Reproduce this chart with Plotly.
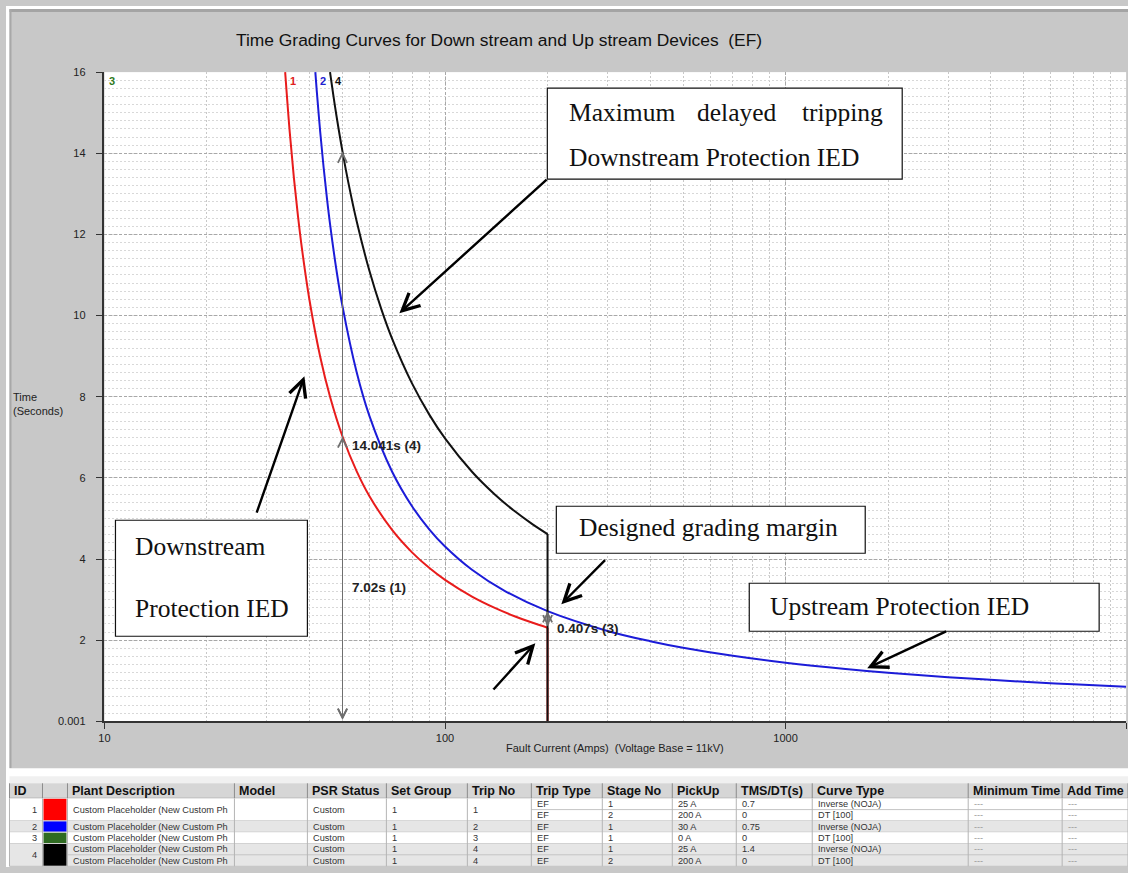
import math
import plotly.graph_objects as go

# Figure size and the placement of the figure on the page
PAGE_W, PAGE_H = 1144, 889
W, H = 1128, 873
AX, BX = 6.5, 0.995   # page x = AX + BX * figure x
AY, BY = 5.9, 0.986   # page y = AY + BY * figure y

# ---------------- characteristic curves: fault current (A) -> operating time (s)
# Trip 1 : EF stage 1, Inverse (NOJA), pickup 25 A, TMS 0.7
trip1_current = [33.93, 35, 36, 37, 38, 40, 43, 46, 50, 55, 60, 70, 80, 90, 100,
                 120, 140, 160, 180, 200]
trip1_time = [16.0, 14.514, 13.389, 12.450, 11.654, 10.377, 8.986, 7.987, 7.020,
              6.166, 5.548, 4.710, 4.164, 3.777, 3.486, 3.075, 2.796, 2.591, 2.434, 2.308]

# Trip 2 : EF stage 1, Inverse (NOJA), pickup 30 A, TMS 0.75
trip2_current = [41.61, 42, 43, 44, 45, 46, 48, 50, 55, 60, 70, 80, 90, 100, 120, 150,
                 200, 300, 400, 500, 700, 1000, 1500, 2000, 3000, 5000, 7000, 10000]
trip2_time = [16.0, 15.551, 14.531, 13.655, 12.896, 12.230, 11.118, 10.225, 8.609,
              7.522, 6.144, 5.300, 4.726, 4.308, 3.735, 3.210, 2.715, 2.228, 1.975,
              1.814, 1.615, 1.445, 1.290, 1.198, 1.088, 0.975, 0.911, 0.852]

# Trip 4 : EF stage 1, Inverse (NOJA), pickup 25 A, TMS 1.4
trip4_current = [45.95, 47, 48, 50, 52, 55, 60, 65, 70, 80, 90, 100, 120, 140, 160,
                 180, 200]
trip4_time = [16.0, 15.427, 14.925, 14.041, 13.283, 12.332, 11.096, 10.159, 9.420,
              8.328, 7.553, 6.972, 6.150, 5.591, 5.182, 4.867, 4.615]

# Stage 2 of trips 1 and 4: definite time at 200 A, 0 s
dt_current = 200
dt_time = 0.001

# Time readings marked on the chart
meas_current = [50, 50, 200]
meas_top = [14.041, 7.02, 2.715]
meas_bottom = [0.001, 0.001, 2.308]
meas_text = ["14.041s (4)", "7.02s (1)", "0.407s (3)"]

# Axis ticks
x_tickvals = [10, 100, 1000, 10000]
x_ticktext = ["10", "100", "1000", "10000"]
y_tickvals = [0.001, 2, 4, 6, 8, 10, 12, 14, 16]
y_ticktext = ["0.001", "2", "4", "6", "8", "10", "12", "14", "16"]

# ---------------- settings table
table_headers = ["ID", "", "Plant Description", "Model", "PSR Status", "Set Group",
                 "Trip No", "Trip Type", "Stage No", "PickUp", "TMS/DT(s)",
                 "Curve Type", "Minimum Time", "Add Time"]
trip_ids = [1, 2, 3, 4]
trip_colors = ["#ff0000", "#0000ff", "#2f6b22", "#000000"]
trip_rows = [[0, 1], [2], [3], [4, 5]]
trip_merged = [True, True, True, False]
plant_desc = "Custom Placeholder (New Custom Ph"
psr_status = "Custom"
set_group = "1"
stage_trip = [1, 1, 2, 3, 4, 4]
stage_type = ["EF", "EF", "EF", "EF", "EF", "EF"]
stage_no = ["1", "2", "1", "1", "1", "2"]
stage_pickup = ["25 A", "200 A", "30 A", "0 A", "25 A", "200 A"]
stage_tms = ["0.7", "0", "0.75", "0", "1.4", "0"]
stage_curve = ["Inverse (NOJA)", "DT [100]", "Inverse (NOJA)", "DT [100]",
               "Inverse (NOJA)", "DT [100]"]
stage_min_time = ["---"] * 6
stage_add_time = ["---"] * 6

SANS = "Liberation Sans, Arial, sans-serif"
SERIF = "Liberation Serif, Times New Roman, serif"


def clamp(v):
    return min(1.0, max(0.0, v))


def px(x):
    """page pixel -> paper x"""
    return ((x - AX) / BX) / W


def py(y):
    """page pixel -> paper y"""
    return 1 - ((y - AY) / BY) / H


shapes = []
annotations = []


def rect(x0, y0, x1, y1, fill, line=None, lw=0, layer="below"):
    shapes.append(dict(type="rect", xref="paper", yref="paper",
                       x0=clamp(px(x0)), x1=clamp(px(x1)),
                       y0=clamp(py(y1)), y1=clamp(py(y0)),
                       fillcolor=fill, layer=layer,
                       line=dict(color=line or fill, width=lw)))


def seg(x0, y0, x1, y1, color, lw=1, layer="below"):
    shapes.append(dict(type="line", xref="paper", yref="paper",
                       x0=clamp(px(x0)), x1=clamp(px(x1)),
                       y0=clamp(py(y0)), y1=clamp(py(y1)), layer=layer,
                       line=dict(color=color, width=lw)))


def text(x, y, s, size=11, color="#222", family=SANS, anchor="left", bold=False):
    annotations.append(dict(xref="paper", yref="paper", x=px(x), y=py(y), text=s,
                            showarrow=False, xanchor=anchor, yanchor="middle",
                            font=dict(size=size, color=color, family=family,
                                      weight="bold" if bold else "normal")))


def arrow(tail, head):
    annotations.append(dict(xref="paper", yref="paper", x=px(head[0]), y=py(head[1]),
                            ax=(tail[0] - head[0]) / BX, ay=(tail[1] - head[1]) / BY,
                            text="", showarrow=True, arrowhead=5, arrowsize=1.4,
                            arrowwidth=2.4, arrowcolor="#000", standoff=0))


# ---------------- window frame
rect(0, 0, PAGE_W, 10, "#ffffff")
rect(0, 0, 10, PAGE_H, "#ffffff")
rect(10, 9, PAGE_W, 12, "#a4a4a4")
rect(10, 9, 12, 768, "#a8a8a8")
rect(0, 768, PAGE_W, PAGE_H, "#ffffff")

# ---------------- titles
text(500, 40, "Time Grading Curves for Down stream and Up stream Devices\u00a0 (EF)",
     size=17.4, color="#111", anchor="center")
text(12, 397, "Time", size=11, color="#222")
text(12, 411, "(Seconds)", size=11, color="#222")
text(616, 748, "Fault Current (Amps)\u00a0 (Voltage Base = 11kV)", size=11, color="#222",
     anchor="center")

# ---------------- callout boxes
box_line = "#111"
BOX_FONT = 25.5
rect(548, 88, 903, 179, "#ffffff", box_line, 1.2, layer="above")
text(568, 112, "Maximum", BOX_FONT, "#111", SERIF)
text(738, 112, "delayed", BOX_FONT, "#111", SERIF, anchor="center")
text(886, 112, "tripping", BOX_FONT, "#111", SERIF, anchor="right")
text(568, 157, "Downstream Protection IED", BOX_FONT, "#111", SERIF)
arrow((548, 180), (400, 313))

rect(557, 506, 866, 553, "#ffffff", box_line, 1.2, layer="above")
text(578, 527, "Designed grading margin", BOX_FONT, "#111", SERIF)
arrow((607, 559), (562, 604))

rect(116, 520, 308, 636, "#ffffff", box_line, 1.2, layer="above")
text(134, 546, "Downstream", BOX_FONT, "#111", SERIF)
text(134, 608, "Protection IED", BOX_FONT, "#111", SERIF)
arrow((257, 512), (305, 376))

rect(750, 583, 1100, 631, "#ffffff", box_line, 1.2, layer="above")
text(769, 606, "Upstream Protection IED", BOX_FONT, "#111", SERIF)
arrow((948, 631), (868, 668))

arrow((493, 690), (536, 643))

# ---------------- time readings (grey double arrows with labels)
for c, top, bot, s in zip(meas_current, meas_top, meas_bottom, meas_text):
    annotations.append(dict(xref="x", yref="y", axref="x", ayref="y",
                            x=math.log10(c), y=top, ax=math.log10(c), ay=bot,
                            text="", showarrow=True, arrowside="end+start",
                            arrowhead=5, startarrowhead=5, arrowsize=1.8,
                            startarrowsize=1.8, arrowwidth=1, arrowcolor="#6e6e6e",
                            standoff=0, startstandoff=0))
    annotations.append(dict(xref="x", yref="y", x=math.log10(c), y=(top + bot) / 2,
                            text=s, showarrow=False, xanchor="left", yanchor="middle",
                            xshift=7, yshift=-9,
                            font=dict(size=13.5, color="#222", family=SANS,
                                      weight="bold")))

# ---------------- curve number labels at the top of the chart
for c, s, col in [(10, "3", "#2f7a22"), (trip1_current[0], "1", "#e02020"),
                  (trip2_current[0], "2", "#2020d0"), (trip4_current[0], "4", "#111")]:
    annotations.append(dict(xref="x", yref="y", x=math.log10(c), y=16, text=s,
                            showarrow=False, xanchor="left", yanchor="top",
                            xshift=3, yshift=-1,
                            font=dict(size=11, color=col, family=SANS, weight="bold")))

# ---------------- settings table
col_edges = [10, 43, 68, 235, 308, 387, 468, 532, 603, 673, 737, 813, 969, 1063, 1140]
head_top, head_bot = 783, 798
row_edges = [798, 809.3, 820.6, 831.9, 843.2, 854.5, 866]
rect(10, 776, 1140, head_top, "#f0f0f0")
rect(10, head_top, 1140, head_bot, "#d6d6d6")
for i, lab in enumerate(table_headers):
    if lab:
        text(col_edges[i] + 3, (head_top + head_bot) / 2, lab, 12.5, "#111", bold=True)
for x in col_edges:
    seg(x, head_top, x, head_bot, "#8c8c8c", 1)
seg(10, head_bot, 1140, head_bot, "#8c8c8c", 1)

CELL = 9.2
row_fill = ["#ffffff", "#e6e6e6", "#ffffff", "#e6e6e6"]
cell_color = "#333"
for t, rows in enumerate(trip_rows):
    top, bot = row_edges[rows[0]], row_edges[rows[-1] + 1]
    mid = (top + bot) / 2
    rect(10, top, 1140, bot, row_fill[t])
    rect(44, top + 0.5, 67, bot - 0.5, trip_colors[t])
    text(col_edges[1] - 3, mid, str(trip_ids[t]), CELL, cell_color, anchor="right")
    if trip_merged[t]:
        spans = [(top, bot)]
    else:
        spans = [(row_edges[r], row_edges[r + 1]) for r in rows]
    for (a, b) in spans:
        m = (a + b) / 2
        text(col_edges[2] + 4, m, plant_desc, CELL, cell_color)
        text(col_edges[4] + 4, m, psr_status, CELL, cell_color)
        text(col_edges[5] + 4, m, set_group, CELL, cell_color)
        text(col_edges[6] + 4, m, str(trip_ids[t]), CELL, cell_color)
        if len(spans) > 1 and b < bot:
            seg(col_edges[2], b, col_edges[7], b, "#c4c4c4", 1)
    for r in rows:
        m = (row_edges[r] + row_edges[r + 1]) / 2
        vals = [stage_type[r], stage_no[r], stage_pickup[r], stage_tms[r],
                stage_curve[r], stage_min_time[r], stage_add_time[r]]
        for k, v in enumerate(vals):
            col = "#9a9a9a" if v == "---" else cell_color
            text(col_edges[7 + k] + 4, m, v, CELL, col)
        if row_edges[r + 1] < bot:
            seg(col_edges[7], row_edges[r + 1], 1140, row_edges[r + 1], "#c4c4c4", 1)
    seg(10, bot, 1140, bot, "#bdbdbd", 1)
for x in col_edges:
    seg(x, head_bot, x, row_edges[-1], "#b4b4b4", 1)

# ---------------- traces
fig = go.Figure()
fig.add_trace(go.Scatter(x=trip1_current, y=trip1_time, mode="lines",
                         line=dict(color="#e81c1c", width=2, shape="spline"),
                         name="1"))
fig.add_trace(go.Scatter(x=[dt_current, dt_current], y=[trip1_time[-1], dt_time],
                         mode="lines", line=dict(color="#e81c1c", width=2)))
fig.add_trace(go.Scatter(x=trip2_current, y=trip2_time, mode="lines",
                         line=dict(color="#1c1cd8", width=2, shape="spline"),
                         name="2"))
fig.add_trace(go.Scatter(x=trip4_current, y=trip4_time, mode="lines",
                         line=dict(color="#111111", width=2, shape="spline"),
                         name="4"))
fig.add_trace(go.Scatter(x=[dt_current, dt_current], y=[trip4_time[-1], dt_time],
                         mode="lines", line=dict(color="#111111", width=2)))

fig.update_layout(
    width=W, height=H, autosize=False,
    margin=dict(l=0, r=0, t=0, b=0),
    paper_bgcolor="#c8c8c8", plot_bgcolor="#ffffff",
    showlegend=False,
    font=dict(family=SANS, size=11, color="#222"),
    shapes=shapes, annotations=annotations,
    xaxis=dict(domain=[px(105), px(1127)], type="log", range=[1, 4],
               tickmode="array", tickvals=x_tickvals, ticktext=x_ticktext,
               ticks="outside", ticklen=6, tickcolor="#333", tickwidth=1,
               showline=True, linecolor="#333", linewidth=1.5,
               showgrid=True, gridcolor="#a8a8a8", griddash="3px,2px", gridwidth=1,
               minor=dict(dtick="D1", showgrid=True, gridcolor="#c8c8c8",
                          griddash="2px,2px", ticks=""),
               zeroline=False, tickfont=dict(size=11, color="#222")),
    yaxis=dict(domain=[py(721), py(72)], range=[0.001, 16],
               tickmode="array", tickvals=y_tickvals, ticktext=y_ticktext,
               ticks="outside", ticklen=7, tickcolor="#333", tickwidth=1,
               ticklabelstandoff=8,
               showline=True, linecolor="#333", linewidth=1.5,
               showgrid=True, gridcolor="#a8a8a8", griddash="3px,2px", gridwidth=1,
               minor=dict(dtick=0.2, tick0=0, showgrid=True, gridcolor="#d8d8d8",
                          griddash="2px,2px", ticks=""),
               zeroline=False, tickfont=dict(size=11, color="#222")),
)

fig.write_html("out.html")
